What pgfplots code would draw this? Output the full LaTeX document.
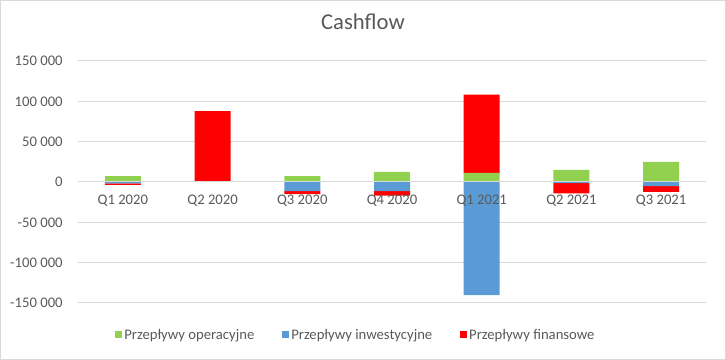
\documentclass[border=0pt]{standalone}
\usepackage{pgfplots}
\pgfplotsset{compat=1.18}
\usepackage{pgfplotstable}
\usepackage{fontspec}
\setmainfont{Carlito}
\definecolor{txt}{HTML}{595959}
\definecolor{gridc}{HTML}{D9D9D9}
\definecolor{gop}{HTML}{92D050}
\definecolor{binv}{HTML}{5B9BD5}
\definecolor{rfin}{HTML}{FF0000}
\pgfplotstableread{
x green blue red
0 7400 -1600 -2100
1 500 0 87500
2 7400 -11200 -3700
3 12400 -11200 -5800
4 11200 -140300 97000
5 14900 -1500 -12500
6 24800 -5000 -7400
}\data
\pgfplotsset{common/.style={
  scale only axis, width=471pt, height=181.5pt, at={(58.5pt,42.75pt)}, anchor=south west,
  xmin=-0.5, xmax=6.5, ymin=-150000, ymax=150000,
  ybar stacked, bar width=27pt,
  xtick={0,...,6}, ytick={-150000,-100000,-50000,0,50000,100000,150000},
  tick style={draw=none},
  ticklabel style={font=\fontsize{11}{13}\selectfont, text=txt},
  scaled y ticks=false,
}}
\begin{document}
\begin{tikzpicture}
\useasboundingbox (0,0) rectangle (544.5pt,270pt);
\draw[gridc, line width=0.75pt] (0.375pt,0.375pt) rectangle (544.125pt,269.625pt);
\begin{axis}[common,
  axis line style={draw=none},
  ymajorgrids, grid style={gridc, line width=0.75pt},
  yticklabels={-150 000,-100 000,-50 000,0,50 000,100 000,150 000},
  yticklabel style={xshift=-8pt},
  xticklabels={},
]
\addplot[fill=gop, draw=none] table[x=x, y expr={max(\thisrow{green},0)}] {\data};
\addplot[fill=binv, draw=none] table[x=x, y expr={max(\thisrow{blue},0)}] {\data};
\addplot[fill=rfin, draw=none] table[x=x, y expr={max(\thisrow{red},0)}] {\data};
\end{axis}
\begin{axis}[common,
  axis on top,
  axis x line=middle, axis y line=left,
  x axis line style={draw=gridc, line width=0.75pt, -},
  y axis line style={draw=none},
  ytick=\empty,
  xticklabels={Q1 2020,Q2 2020,Q3 2020,Q4 2020,Q1 2021,Q2 2021,Q3 2021},
  xticklabel style={yshift=-4pt},
  title={Cashflow},
  title style={at={(0.4538,1.13)}, anchor=center, font=\fontsize{17}{20}\selectfont, text=txt},
  legend columns=3,
  legend style={at={(0.4426,-0.132)}, anchor=center, draw=none, fill=none,
    font=\fontsize{11}{13}\selectfont, text=txt,
    nodes={inner xsep=2pt},
    /tikz/every even column/.append style={column sep=18.5pt}},
  legend image code/.code={\fill[#1] (0pt,-2.625pt) rectangle (5.25pt,2.625pt);},
]
\addplot[fill=gop, draw=none] table[x=x, y expr={min(\thisrow{green},0)}] {\data};
\addlegendentry{Przepływy operacyjne}
\addplot[fill=binv, draw=none] table[x=x, y expr={min(\thisrow{blue},0)}] {\data};
\addlegendentry{Przepływy inwestycyjne}
\addplot[fill=rfin, draw=none] table[x=x, y expr={min(\thisrow{red},0)}] {\data};
\addlegendentry{Przepływy finansowe}
\end{axis}
\end{tikzpicture}
\end{document}
